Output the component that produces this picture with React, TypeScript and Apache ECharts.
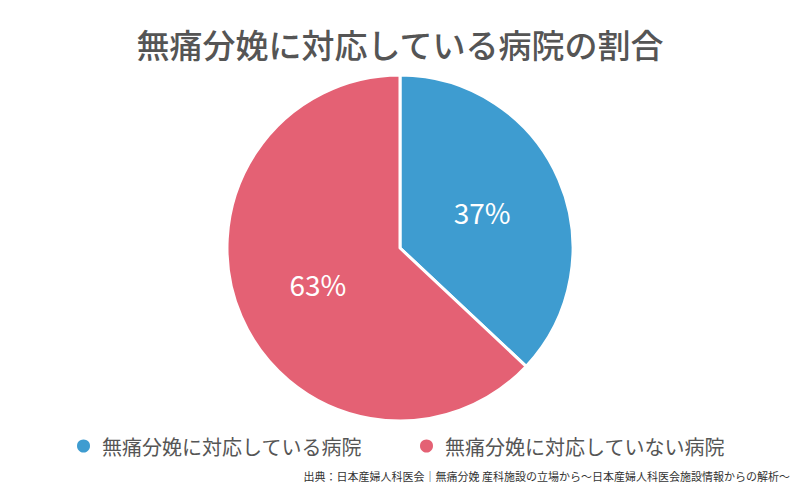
import React, { useEffect, useRef } from "react";
import * as echarts from "echarts";

const title = "無痛分娩に対応している病院の割合";
const categories = ["無痛分娩に対応している病院", "無痛分娩に対応していない病院"];
const values = [37, 63];
const colors = ["#3e9cd0", "#e46174"];
const source = "出典：日本産婦人科医会｜無痛分娩 産科施設の立場から～日本産婦人科医会施設情報からの解析～";

const FONT = "'Noto Sans CJK JP', 'Noto Sans', sans-serif";

export default function App() {
  const ref = useRef<HTMLDivElement>(null);
  useEffect(() => {
    if (!ref.current) return;
    const chart = echarts.init(ref.current, null, { renderer: "svg" });
    chart.setOption({
      animation: false,
      backgroundColor: "#ffffff",
      title: {
        text: title,
        left: "center",
        top: 22,
        textStyle: { fontFamily: FONT, fontSize: 33, fontWeight: 500, color: "#555555" },
      },
      legend: {
        data: categories,
        top: 431,
        left: "center",
        icon: "circle",
        itemWidth: 15,
        itemHeight: 15,
        itemGap: 56,
        textStyle: { fontFamily: FONT, fontSize: 20, color: "#555555", padding: [0, 0, 0, 6] },
      },
      graphic: [
        {
          type: "text",
          right: 10,
          top: 470,
          style: { text: source, fontFamily: FONT, fontSize: 11, fill: "#333333" },
        },
      ],
      series: [
        {
          type: "pie",
          center: [400, 248],
          radius: [0, 173],
          startAngle: 90,
          clockwise: true,
          itemStyle: { borderColor: "#ffffff", borderWidth: 3 },
          label: {
            show: true,
            position: "inside",
            formatter: "{c}%",
            fontFamily: FONT,
            fontSize: 28,
            color: "#ffffff",
            fontWeight: "normal",
          },
          labelLine: { show: false },
          emphasis: { disabled: true },
          data: categories.map((name, i) => ({
            name,
            value: values[i],
            itemStyle: { color: colors[i] },
          })),
        },
      ],
    });
    return () => chart.dispose();
  }, []);
  return (
    <div
      ref={ref}
      style={{ position: "fixed", left: 0, top: 0, width: 800, height: 495 }}
    />
  );
}
